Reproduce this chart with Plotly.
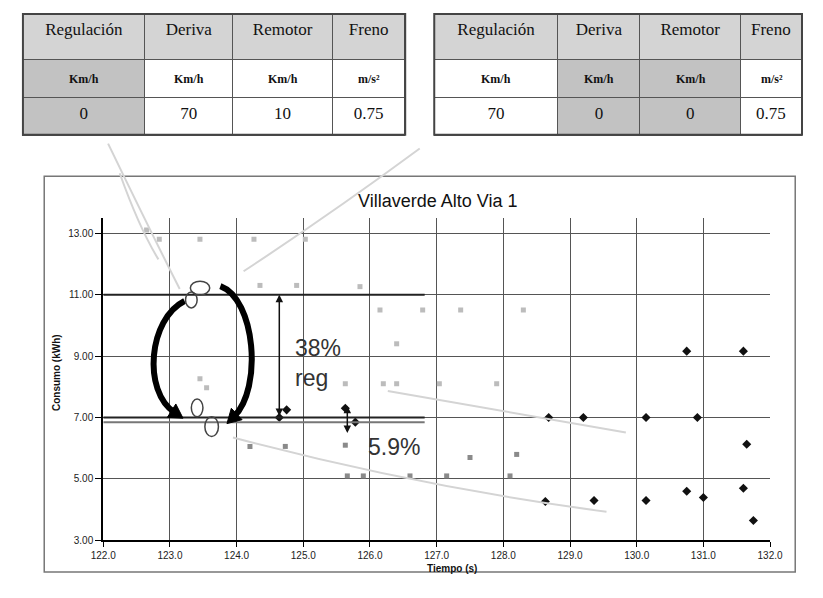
import math
import plotly.graph_objects as go

# page is 823x598; the html body has an 8px margin, so the figure itself is
# 807x582 placed at (8, 8)
PAGE_W, PAGE_H = 823, 598
OFF = 8
W, H = PAGE_W - 2 * OFF, PAGE_H - 2 * OFF

# ---------------- data ----------------
headers = ["Regulación", "Deriva", "Remotor", "Freno"]
units = ["Km/h", "Km/h", "Km/h", "m/s²"]
left_values = ["0", "70", "10", "0.75"]
right_values = ["70", "0", "0", "0.75"]

title_text = "Villaverde Alto Via 1"
x_title = "Tiempo (s)"
y_title = "Consumo (kWh)"

x_ticks = [122, 123, 124, 125, 126, 127, 128, 129, 130, 131, 132]
y_ticks = [3, 5, 7, 9, 11, 13]

light_x = [122.65, 122.84, 123.45, 124.26, 125.03, 124.35, 124.90, 125.85,
           126.15, 126.79, 127.36, 128.30, 126.40, 123.45, 123.55, 125.63,
           126.20, 126.40, 127.04, 127.90]
light_y = [13.1, 12.8, 12.8, 12.8, 12.8, 11.3, 11.3, 11.26,
           10.5, 10.5, 10.5, 10.5, 9.4, 8.26, 7.97, 8.1,
           8.1, 8.1, 8.1, 8.1]

mid_x = [124.20, 124.73, 125.63, 127.50, 128.20, 125.66, 125.90, 126.60,
         127.15, 128.10]
mid_y = [6.06, 6.06, 6.1, 5.7, 5.8, 5.1, 5.1, 5.1, 5.1, 5.1]

black_x = [124.64, 124.75, 125.63, 125.78, 128.68, 129.20, 130.14, 130.91,
           130.75, 131.60, 131.65, 128.63, 129.36, 130.14, 130.75, 131.00,
           131.60, 131.75]
black_y = [7.0, 7.25, 7.3, 6.85, 7.0, 7.0, 7.0, 7.0,
           9.16, 9.16, 6.13, 4.27, 4.3, 4.3, 4.6, 4.4,
           4.7, 3.65]

# reference levels drawn as black lines (kWh) and their x-extent
ref_levels = [11.0, 7.0, 6.85]
ref_x_end = 126.82

# ---------------- helpers (page pixel -> paper) ----------------
def px(x):
    return (x - OFF) / W

def py(y):
    return 1 - (y - OFF) / H

def P(x, y):
    return f"{px(x):.5f},{py(y):.5f}"

fig = go.Figure()
shapes = []
annotations = []

# ---------------- tables ----------------
HDR_FILL = "#d4d4d4"
HI = "#c2c2c2"
WH = "#ffffff"
TOP = 14
HDR_H = 46
ROW_H = 38

def add_table(x0, x1, widths, vals, highlight):
    cell_fill = []
    for i in range(4):
        c = HI if highlight[i] else WH
        cell_fill.append([c, c])
    fig.add_trace(go.Table(
        domain=dict(x=[px(x0), px(x1)], y=[py(300), py(TOP)]),
        columnwidth=widths,
        header=dict(values=headers, height=HDR_H, align="center",
                    fill_color=HDR_FILL, line=dict(color="#555", width=1),
                    font=dict(family="Liberation Serif", size=17, color="#111")),
        cells=dict(values=[["", vals[i]] for i in range(4)],
                   height=ROW_H, align="center",
                   fill_color=cell_fill, line=dict(color="#555", width=1),
                   font=dict(family="Liberation Serif", size=17, color="#111")),
    ))
    # unit row labels (smaller, bold)
    total = sum(widths)
    acc = x0
    for i in range(4):
        w = (x1 - x0) * widths[i] / total
        annotations.append(dict(x=px(acc + w / 2), y=py(TOP + HDR_H + ROW_H / 2 + 1),
                                xref="paper", yref="paper", text="<b>" + units[i] + "</b>",
                                showarrow=False, xanchor="center", yanchor="middle",
                                font=dict(family="Liberation Serif", size=12,
                                          color="#111")))
        acc += w
    # heavier outer border
    shapes.append(dict(type="rect", xref="paper", yref="paper",
                       x0=px(x0), x1=px(x1), y0=py(TOP + HDR_H + 2 * ROW_H), y1=py(TOP),
                       line=dict(color="#444", width=2)))

add_table(10, 405, [126, 91, 103, 75], left_values, [True, False, False, False])
add_table(435, 815, [128, 85, 104, 63], right_values, [False, True, True, False])

# ---------------- scatter ----------------
fig.add_trace(go.Scatter(x=light_x, y=light_y, mode="markers",
                         marker=dict(symbol="square", size=5, color="#bcbcbc"),
                         showlegend=False, hoverinfo="skip"))
fig.add_trace(go.Scatter(x=mid_x, y=mid_y, mode="markers",
                         marker=dict(symbol="square", size=5, color="#8a8a8a"),
                         showlegend=False, hoverinfo="skip"))
fig.add_trace(go.Scatter(x=black_x, y=black_y, mode="markers",
                         marker=dict(symbol="diamond", size=7, color="#111"),
                         showlegend=False, hoverinfo="skip"))

# chart frame
shapes.append(dict(type="rect", xref="paper", yref="paper",
                   x0=px(32), x1=px(808), y0=py(578), y1=py(178),
                   line=dict(color="#777", width=1.5), layer="below"))

# faint scan lines / trends
faint = [
    [(98, 145), (140, 230), (172, 292)],
    [(420, 150), (330, 215), (238, 274)],
    [(227, 442), (420, 492), (613, 517)],
    [(387, 395), (520, 418), (633, 437)],
    [(110, 175), (130, 230), (150, 262)],
]
for pts in faint:
    path = "M " + P(*pts[0]) + " Q " + P(*pts[1]) + " " + P(*pts[2])
    shapes.append(dict(type="path", xref="paper", yref="paper", path=path,
                       line=dict(color="#d4d4d4", width=2)))

# black reference lines
for i, lv in enumerate(ref_levels):
    shapes.append(dict(type="line", xref="x", yref="y", x0=122, x1=ref_x_end,
                       y0=lv, y1=lv,
                       line=dict(color="#222" if i < 2 else "#777", width=2)))

# circular arrows
def arc_with_head(p0, c1, c2, p1):
    path = "M " + P(*p0) + " C " + P(*c1) + " " + P(*c2) + " " + P(*p1)
    shapes.append(dict(type="path", xref="paper", yref="paper", path=path,
                       line=dict(color="#000", width=6)))
    dx, dy = p1[0] - c2[0], p1[1] - c2[1]
    n = math.hypot(dx, dy)
    dx, dy = dx / n, dy / n
    tip = (p1[0] + 10 * dx, p1[1] + 10 * dy)
    bc = (p1[0] - 4 * dx, p1[1] - 4 * dy)
    b1 = (bc[0] - 8 * dy, bc[1] + 8 * dx)
    b2 = (bc[0] + 8 * dy, bc[1] - 8 * dx)
    head = "M " + P(*tip) + " L " + P(*b1) + " L " + P(*b2) + " Z"
    shapes.append(dict(type="path", xref="paper", yref="paper", path=head,
                       fillcolor="#000", line=dict(color="#000", width=1)))

arc_with_head((177, 304), (140, 322), (133, 395), (167, 417))
arc_with_head((214, 289), (250, 302), (258, 392), (228, 421))

# small ellipses
for (cx, cy, rx, ry) in [(193, 291, 10, 7), (184, 303, 6, 8),
                         (190, 412, 6, 9), (205, 431, 7, 10)]:
    shapes.append(dict(type="circle", xref="paper", yref="paper",
                       x0=px(cx - rx), x1=px(cx + rx), y0=py(cy + ry), y1=py(cy - ry),
                       line=dict(color="#444", width=1.5)))

# vertical double arrows
for (xa, ya, yb) in [(124.64, 11.0, 7.0), (125.66, 7.38, 6.45)]:
    annotations.append(dict(x=xa, y=ya, ax=xa, ay=yb, xref="x", yref="y",
                            axref="x", ayref="y", text="", showarrow=True,
                            arrowhead=2, arrowside="end+start", arrowsize=1,
                            arrowwidth=1.5, arrowcolor="#111"))

# labels
big = dict(family="Liberation Sans", size=23, color="#333")
annotations.append(dict(x=px(289), y=py(352), xref="paper", yref="paper",
                        text="38%", showarrow=False, xanchor="left", yanchor="middle",
                        font=big))
annotations.append(dict(x=px(289), y=py(382), xref="paper", yref="paper",
                        text="reg", showarrow=False, xanchor="left", yanchor="middle",
                        font=big))
annotations.append(dict(x=px(364), y=py(452), xref="paper", yref="paper",
                        text="5.9%", showarrow=False, xanchor="left", yanchor="middle",
                        font=big))
annotations.append(dict(x=px(438), y=py(203), xref="paper", yref="paper",
                        text=title_text, showarrow=False, xanchor="center",
                        yanchor="middle",
                        font=dict(family="Liberation Sans", size=18, color="#111")))
annotations.append(dict(x=px(453), y=py(574), xref="paper", yref="paper",
                        text="<b>" + x_title + "</b>", showarrow=False,
                        xanchor="center", yanchor="middle",
                        font=dict(family="Liberation Sans", size=10, color="#111")))
annotations.append(dict(x=px(44), y=py(376), xref="paper", yref="paper",
                        text="<b>" + y_title + "</b>", showarrow=False, textangle=-90,
                        xanchor="center", yanchor="middle",
                        font=dict(family="Liberation Sans", size=10, color="#111")))

fig.update_layout(
    width=W, height=H,
    margin=dict(l=0, r=0, t=0, b=0),
    paper_bgcolor="white", plot_bgcolor="white",
    showlegend=False,
    shapes=shapes, annotations=annotations,
    xaxis=dict(domain=[px(93), px(782)], range=[122, 132],
               tickvals=x_ticks, tickformat=".1f",
               showgrid=True, gridcolor="#555", gridwidth=1,
               showline=True, linecolor="#000", linewidth=2,
               ticks="outside", ticklen=5, tickcolor="#000",
               zeroline=False,
               tickfont=dict(family="Liberation Sans", size=10, color="#222"),
               fixedrange=True),
    yaxis=dict(domain=[py(546), py(220)], range=[3, 13.5],
               tickvals=y_ticks, tickformat=".2f",
               showgrid=True, gridcolor="#555", gridwidth=1,
               showline=True, linecolor="#000", linewidth=2,
               ticks="outside", ticklen=6, tickcolor="#000",
               zeroline=False,
               tickfont=dict(family="Liberation Sans", size=10, color="#222"),
               fixedrange=True),
)

fig.write_html("out.html")
